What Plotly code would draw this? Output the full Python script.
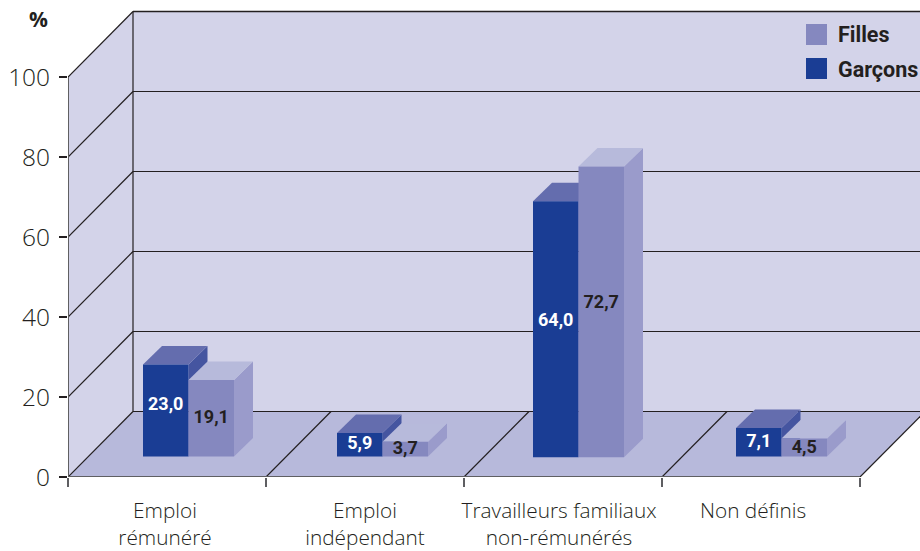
import plotly.graph_objects as go

# ---- data ----
categories = ["Emploi<br>rémunéré", "Emploi<br>indépendant",
              "Travailleurs familiaux<br>non-rémunérés", "Non définis"]
garcons = [23.0, 5.9, 64.0, 7.1]
filles = [19.1, 3.7, 72.7, 4.5]
y_ticks = [0, 20, 40, 60, 80, 100]

# ---- layout constants (x unit = one category = 198 px; y unit = 4 px) ----
W, H = 920, 551
L, T, B = 68, 10, 74
CAT_PX, Y_PX = 198.0, 4.0
DX, DY = 65 / CAT_PX, 65.5 / Y_PX           # depth of the room
BX, BY = 19 / CAT_PX, 18.5 / Y_PX           # depth of a bar
BAR_W = 45.5 / CAT_PX
BASES = [20.5 / Y_PX, 20.5 / Y_PX, 19.8 / Y_PX, 20.5 / Y_PX]  # bars stand in from the floor's front
GROUP_START = [75 / CAT_PX, 1 + 71 / CAT_PX, 2 + 69 / CAT_PX, 3 + 74 / CAT_PX]
LABEL_X = [0.49, 1.5, 2.48, 3.46]
LABEL_NUDGE_G = [1.3, 0, 2.0, 0]            # value-label lift, in y units
LABEL_NUDGE_F = [0, -0.2, 2.0, -0.2]
X_MAX = (W - L) / CAT_PX
Y_MAX = (H - B - T) / Y_PX

WALL, FLOOR = "#D3D3E9", "#B7B9DB"
INK, GREY = "#231F20", "#5F5F62"
G_FRONT, G_TOP, G_SIDE = "#1A3D94", "#646DAE", "#4555A0"
F_FRONT, F_TOP, F_SIDE = "#8588BF", "#B7BADB", "#9A9BCB"
TEXT_FONT = "Open Sans"
BOLD_FONT = "Roboto"
LEG_FONT = "Roboto"


def poly(points, fill):
    path = "M" + " L".join(f"{x},{y}" for x, y in points) + " Z"
    return dict(type="path", path=path, xref="x", yref="y", fillcolor=fill,
                line=dict(width=0), layer="below")


def seg(x0, y0, x1, y1, color=INK, width=1.2):
    return dict(type="line", x0=x0, y0=y0, x1=x1, y1=y1, xref="x", yref="y",
                line=dict(color=color, width=width), layer="below")


shapes = [
    poly([(0, 0), (DX, DY), (DX, 100 + DY), (0, 100)], WALL),             # left wall
    poly([(DX, DY), (X_MAX + 1, DY), (X_MAX + 1, 100 + DY), (DX, 100 + DY)], WALL),  # back wall
    poly([(0, 0), (4, 0), (4 + DX, DY), (DX, DY)], FLOOR),                # floor
]
for t in y_ticks:
    if t > 0:
        shapes.append(seg(0, t, DX, t + DY))
    shapes.append(seg(DX, t + DY, X_MAX + 1, t + DY, width=1.6 if t == 100 else 1.2))
for c in range(5):
    shapes.append(seg(c, 0, c + DX, DY))
shapes.append(seg(DX, DY, DX, 100 + DY))
shapes.append(seg(0, 0, 0, 100, GREY, 2))
shapes.append(seg(0, 0, 4, 0, GREY, 2))


def faces(left, value, base, top_col, side_col):
    right = left + BAR_W
    top = base + value
    return [
        poly([(right, base), (right + BX, base + BY), (right + BX, top + BY), (right, top)], side_col),
        poly([(left, top), (right, top), (right + BX, top + BY), (left + BX, top + BY)], top_col),
    ]


g_left = GROUP_START
f_left = [g + BAR_W for g in GROUP_START]
for left, v, b in zip(g_left, garcons, BASES):
    shapes += faces(left, v, b, G_TOP, G_SIDE)
for left, v, b in zip(f_left, filles, BASES):
    shapes += faces(left, v, b, F_TOP, F_SIDE)


# legend swatches
def swatch(y_px, color):
    return dict(type="rect", xref="paper", yref="paper",
                x0=(806 - L) / (W - L), x1=(827 - L) / (W - L),
                y0=1 - (y_px + 21 - T) / (H - B - T), y1=1 - (y_px - T) / (H - B - T),
                fillcolor=color, line=dict(width=0), layer="above")


shapes += [swatch(24, F_FRONT), swatch(58, G_FRONT)]

fig = go.Figure()
fig.add_bar(x=[g + BAR_W / 2 for g in g_left], y=garcons, base=BASES, width=BAR_W,
            name="Garçons", marker=dict(color=G_FRONT, line=dict(width=0)), showlegend=False)
fig.add_bar(x=[f + BAR_W / 2 for f in f_left], y=filles, base=BASES, width=BAR_W,
            name="Filles", marker=dict(color=F_FRONT, line=dict(width=0)), showlegend=False)


def fmt(values):
    return [f"{v:.1f}".replace(".", ",") for v in values]


fig.add_scatter(x=[g + BAR_W / 2 for g in g_left],
                y=[b + v / 2 + n for v, n, b in zip(garcons, LABEL_NUDGE_G, BASES)],
                mode="text", text=fmt(garcons), showlegend=False, hoverinfo="skip",
                textfont=dict(family=BOLD_FONT, size=18, color="white", weight="bold"))
fig.add_scatter(x=[f + BAR_W / 2 for f in f_left],
                y=[b + v / 2 + n for v, n, b in zip(filles, LABEL_NUDGE_F, BASES)],
                mode="text", text=fmt(filles), showlegend=False, hoverinfo="skip",
                textfont=dict(family=BOLD_FONT, size=18, color=INK, weight="bold"))


def legend_text(text, y_px):
    return dict(text=f"<b>{text}</b>", xref="paper", yref="paper", showarrow=False,
                x=(836 - L) / (W - L), y=1 - (y_px - T) / (H - B - T), xanchor="left", yanchor="middle",
                font=dict(family=LEG_FONT, size=21.5, color=INK))


annotations = [
    legend_text("Filles", 35),
    legend_text("Garçons", 69),
    dict(text="<b>%</b>", xref="paper", yref="paper", showarrow=False,
         x=(38 - L) / (W - L), y=1 - (19 - T) / (H - B - T), xanchor="center", yanchor="middle",
         font=dict(family=TEXT_FONT, size=21, color=INK)),
]

fig.update_layout(
    width=W, height=H, autosize=False,
    margin=dict(l=L, r=0, t=T, b=B, pad=0),
    paper_bgcolor="white", plot_bgcolor="white",
    barmode="overlay", showlegend=False,
    shapes=shapes, annotations=annotations,
    xaxis=dict(range=[0, X_MAX], tickmode="array", tickvals=LABEL_X, ticktext=categories,
               ticks="", ticklen=0, showgrid=False, zeroline=False, showline=False,
               ticklabelstandoff=19,
               tickfont=dict(family=TEXT_FONT, size=20.8, color=INK, weight=300),
               minor=dict(tickmode="array", tickvals=[0, 1, 2, 3, 4], ticks="outside",
                          ticklen=9, tickwidth=2, tickcolor=GREY, showgrid=False)),
    yaxis=dict(range=[0, Y_MAX], tickmode="array", tickvals=y_ticks, ticks="outside",
               ticklen=8, tickwidth=1.5, tickcolor=INK, showgrid=False, zeroline=False,
               showline=False, ticklabelstandoff=4,
               tickfont=dict(family=TEXT_FONT, size=24.5, color=INK, weight=300)),
)
fig.write_html("out.html", config={"displayModeBar": False},
               post_script="document.body.style.margin='0';document.documentElement.style.overflow='hidden';")
